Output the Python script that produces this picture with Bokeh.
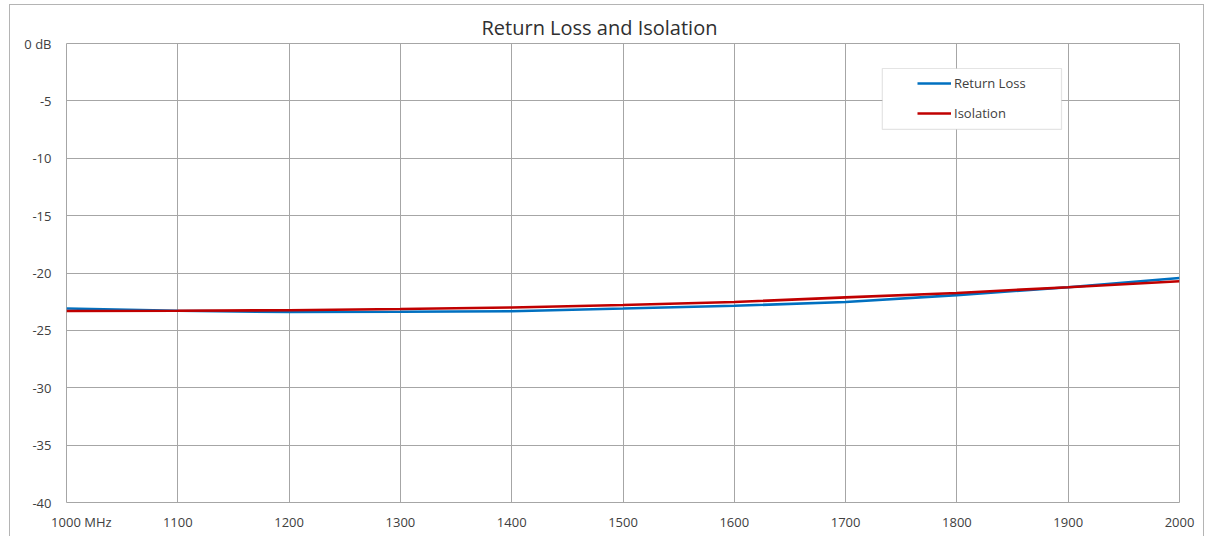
from bokeh.plotting import figure
from bokeh.models import (Range1d, FixedTicker, Legend, LegendItem,
                          BoxAnnotation)
from bokeh.embed import file_html
from bokeh.resources import INLINE

# ---- data ----
freq_mhz = [1000, 1100, 1200, 1300, 1400, 1500, 1600, 1700, 1800, 1900, 2000]
return_loss = [-23.09, -23.29, -23.40, -23.38, -23.33, -23.10, -22.86, -22.53, -21.93, -21.24, -20.44]
isolation = [-23.31, -23.29, -23.24, -23.14, -23.00, -22.79, -22.53, -22.12, -21.74, -21.24, -20.72]

x_ticks = [1000, 1100, 1200, 1300, 1400, 1500, 1600, 1700, 1800, 1900, 2000]
x_tick_labels = ["\u2007\u2007\u2007\u20071000 MHz", "1100", "1200", "1300", "1400",
                 "1500", "1600", "1700", "1800", "1900", "2000"]
y_ticks = [0, -5, -10, -15, -20, -25, -30, -35, -40]
y_tick_labels = ["0 dB", "-5", "-10", "-15", "-20", "-25", "-30", "-35", "-40"]

title_text = "Return Loss and Isolation"
series_names = ["Return Loss", "Isolation"]

FONT = "Open Sans"
GRID = "#a6a6a6"
TXT = "#404040"

p = figure(width=1195, height=534, output_backend="svg", toolbar_location=None,
           x_range=Range1d(1000, 2000), y_range=Range1d(-40, 0),
           min_border_left=56, min_border_right=26, min_border_top=38,
           min_border_bottom=37, title=title_text)
p.margin = (4, 0, -6, 9)
p.styles = {"border": "1px solid #b4b4b4"}

p.title.align = "left"
p.title.offset = 415
p.title.text_font = FONT
p.title.text_font_size = "20px"
p.title.text_font_style = "normal"
p.title.text_color = "#303030"
p.title.standoff = 6

p.outline_line_color = GRID
p.outline_line_width = 1
p.background_fill_color = "white"
p.border_fill_color = "white"

p.xaxis.ticker = FixedTicker(ticks=x_ticks)
p.yaxis.ticker = FixedTicker(ticks=y_ticks)
p.xaxis.major_label_overrides = {t: l for t, l in zip(x_ticks, x_tick_labels)}
p.yaxis.major_label_overrides = {t: l for t, l in zip(y_ticks, y_tick_labels)}
for ax in (p.xaxis, p.yaxis):
    ax.axis_line_color = None
    ax.major_tick_line_color = None
    ax.minor_tick_line_color = None
    ax.major_label_text_font = FONT
    ax.major_label_text_font_size = "13px"
    ax.major_label_text_color = TXT
p.yaxis.major_label_standoff = 9
p.xaxis.major_label_standoff = 4

p.xgrid.ticker = FixedTicker(ticks=x_ticks)
p.ygrid.ticker = FixedTicker(ticks=y_ticks)
p.grid.grid_line_color = GRID
p.grid.grid_line_width = 1

r1 = p.line(freq_mhz, return_loss, line_color="#0070C0", line_width=2.6)
r2 = p.line(freq_mhz, isolation, line_color="#C00000", line_width=2.6)

# legend frame
box = BoxAnnotation(left=1733, right=1894, top=-2.18, bottom=-7.49,
                    fill_color="white", fill_alpha=1.0,
                    line_color=GRID, line_width=1.2)
p.add_layout(box)

legend = Legend(items=[LegendItem(label=series_names[0], renderers=[r1]),
                       LegendItem(label=series_names[1], renderers=[r2])],
                location=(851, 379), padding=0, margin=0, spacing=10,
                glyph_width=34, glyph_height=20, label_height=20,
                label_standoff=3, border_line_color=None,
                background_fill_alpha=0.0,
                label_text_font=FONT, label_text_font_size="13px",
                label_text_color=TXT)
p.add_layout(legend)

open("out.html", "w").write(file_html(p, INLINE))
